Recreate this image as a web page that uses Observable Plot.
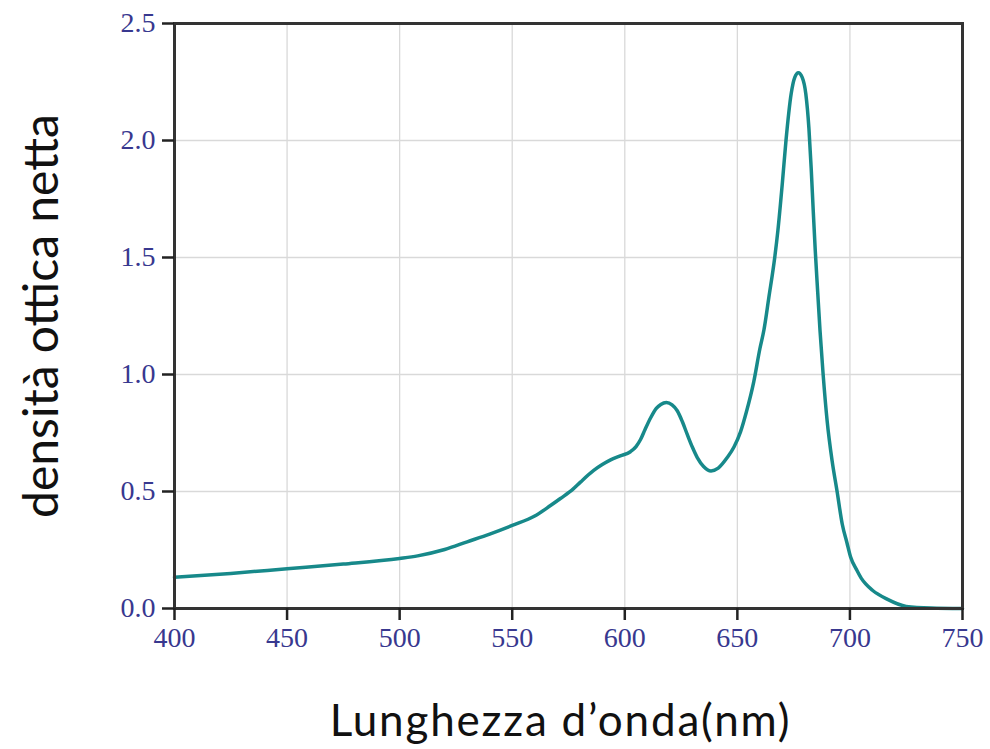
<!DOCTYPE html>
<html>
<head>
<meta charset="utf-8">
<script src="https://cdn.jsdelivr.net/npm/d3@7"></script>
<script src="https://cdn.jsdelivr.net/npm/@observablehq/plot@0.6"></script>
<style>
  html, body { margin: 0; padding: 0; background: #fff; }
</style>
</head>
<body>
<div id="chart"></div>
<script>
const wavelength = [400, 425, 450, 475, 500, 508, 520, 530, 540, 550, 560, 567, 571.4, 577, 580.3, 586.2, 590, 593.7, 598, 602.5, 605, 607, 609, 611.5, 614, 616, 618.5, 621, 623.3, 625.5, 627.7, 630, 632.2, 635, 638.3, 641.5, 645.5, 648.5, 651.4, 654, 657.3, 660, 661.8, 664, 666.6, 668, 670, 671.6, 673.9, 675.5, 677.1, 678.8, 680.4, 681.8, 682.8, 683.7, 684.6, 685.7, 686.7, 688.1, 689.9, 692.1, 694.3, 696.6, 698.7, 700.3, 703, 705, 707, 710, 716.5, 725, 736, 750];
const density = [0.134, 0.150, 0.170, 0.19, 0.214, 0.225, 0.252, 0.285, 0.318, 0.355, 0.395, 0.44, 0.47, 0.51, 0.54, 0.59, 0.615, 0.635, 0.652, 0.67, 0.692, 0.722, 0.765, 0.815, 0.855, 0.872, 0.88, 0.87, 0.845, 0.80, 0.745, 0.69, 0.645, 0.607, 0.588, 0.60, 0.645, 0.69, 0.755, 0.84, 0.97, 1.11, 1.19, 1.33, 1.5, 1.615, 1.82, 2.0, 2.2, 2.27, 2.29, 2.27, 2.2, 2.05, 1.88, 1.7, 1.53, 1.35, 1.19, 1.0, 0.8, 0.63, 0.5, 0.36, 0.28, 0.22, 0.165, 0.13, 0.105, 0.078, 0.04, 0.009, 0.002, 0];
const xTicks = [400, 450, 500, 550, 600, 650, 700, 750];
const yTicks = [0, 0.5, 1.0, 1.5, 2.0, 2.5];
const xLabel = "Lunghezza d\u2019onda(nm)";
const yLabel = "densità ottica netta";

const data = wavelength.map((x, i) => ({x, y: density[i]}));

const chart = Plot.plot({
  width: 990,
  height: 749,
  marginLeft: 174,
  marginRight: 28,
  marginTop: 23,
  marginBottom: 141,
  style: {background: "white", fontFamily: "Liberation Serif"},
  x: {domain: [400, 750]},
  y: {domain: [0, 2.5]},
  marks: [
    Plot.gridX(xTicks, {stroke: "#d9d9d9", strokeOpacity: 1, strokeWidth: 1.3}),
    Plot.gridY(yTicks, {stroke: "#d9d9d9", strokeOpacity: 1, strokeWidth: 1.3}),
    Plot.line(data, {x: "x", y: "y", stroke: "#17898a", strokeWidth: 3.5, curve: "monotone-x"}),
    Plot.frame({stroke: "#333", strokeWidth: 3}),
    Plot.axisX(xTicks, {tickSize: 12, tickPadding: 7, stroke: "#222", strokeWidth: 2.5, fill: "#38388f", fontSize: 28, label: null, tickFormat: d => String(d)}),
    Plot.axisY(yTicks, {tickSize: 12, tickPadding: 7, stroke: "#222", strokeWidth: 2.5, fill: "#38388f", fontSize: 28, label: null, tickFormat: d3.format(".1f")}),
    Plot.text([xLabel], {frameAnchor: "bottom", dy: 113, dx: -8, lineAnchor: "middle", textAnchor: "middle", fontSize: 44, fontFamily: "Lato", fill: "#111", text: d => d}),
    Plot.text([yLabel], {frameAnchor: "left", dx: -132, rotate: -90, lineAnchor: "middle", textAnchor: "middle", fontSize: 48, fontFamily: "Lato", fill: "#111", text: d => d})
  ]
});
document.getElementById("chart").appendChild(chart);
// apply letter spacing to the x-axis title
chart.querySelectorAll("text").forEach(t => { if (t.textContent === xLabel) t.style.letterSpacing = "1.8px"; });
</script>
</body>
</html>
